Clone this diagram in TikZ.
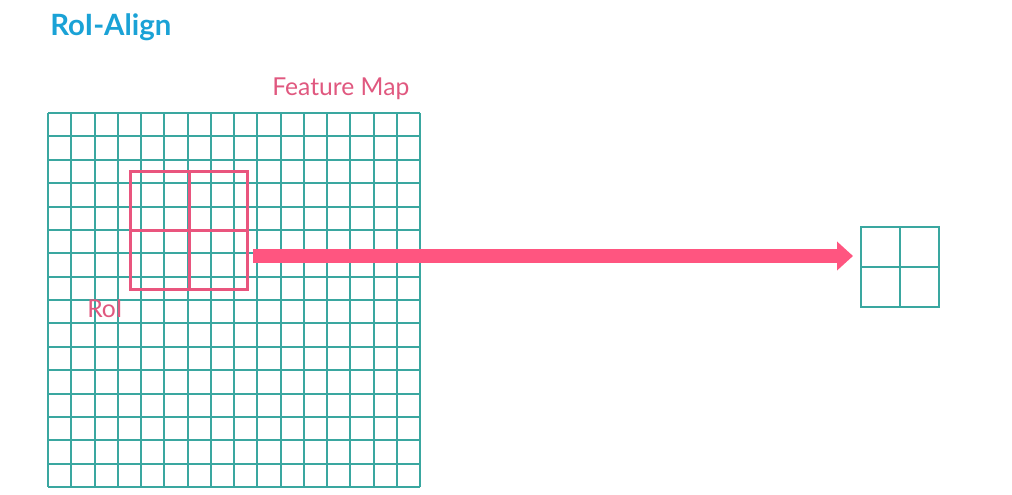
\documentclass[tikz,border=0pt]{standalone}
\usepackage{fontspec}
\setmainfont{Lato}
\usetikzlibrary{arrows.meta}
\definecolor{gridc}{HTML}{3AA7A0}
\definecolor{roic}{HTML}{E9557E}
\definecolor{arrowc}{HTML}{FF5580}
\definecolor{titlec}{HTML}{1AA2D6}
\definecolor{labelc}{HTML}{E0587F}
\tikzset{
  gridline/.style={draw=gridc, line width=1.5pt},
  roiline/.style={draw=roic, line width=2.3pt},
  bigarrow/.style={draw=arrowc, line width=10.5pt, -{Triangle[length=12pt,width=21pt]}},
  lbl/.style={anchor=base west, inner sep=0pt, text=labelc, font=\fontsize{18.5pt}{22pt}\selectfont},
}
\begin{document}
\begin{tikzpicture}[x=0.75pt,y=-0.75pt]
\useasboundingbox (0,0) rectangle (1012,495);
% title
\node[anchor=base west, inner sep=0pt, text=titlec, font=\fontsize{22pt}{26pt}\selectfont\bfseries] (title) at (50,36) {RoI-Align};
% feature map
\node[draw=none, minimum width=279pt, minimum height=280.5pt, inner sep=0pt, anchor=north west] (fmap) at (48,113) {};
\foreach \i in {0,...,16} {
  \pgfmathsetmacro{\gx}{round(48+\i*23.25)}
  \pgfmathsetmacro{\gy}{round(113+\i*23.375)}
  \draw[gridline] (\gx,113) -- (\gx,487);
  \draw[gridline] (48,\gy) -- (420,\gy);
}
\node[lbl] (fmlabel) at (272,96) {Feature Map};
% RoI
\node[roiline, minimum width=87.75pt, minimum height=88.5pt, inner sep=0pt, anchor=north west] (roi) at (129,170) {};
\draw[roiline] (roi.north) -- (roi.south);
\draw[roiline] (roi.west) -- (roi.east);
\node[lbl] (roilabel) at (87,317) {RoI};
% output
\node[gridline, minimum width=58.5pt, minimum height=60pt, inner sep=0pt, anchor=north west] (out) at (860,226) {};
\draw[gridline] (out.north) -- (out.south);
\draw[gridline] (out.west) -- (out.east);
% arrow
\coordinate (a1) at (253,256);
\coordinate (a2) at (853,256);
\draw[bigarrow] (a1) -- (a2);
\end{tikzpicture}
\end{document}
